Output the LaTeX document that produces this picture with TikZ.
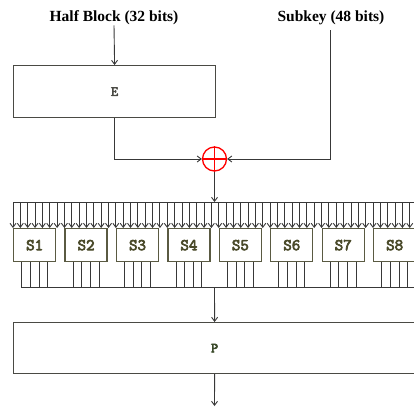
\documentclass[tikz,border=0pt]{standalone}
\usepackage{fontspec}
\setmainfont{Liberation Serif}
\setmonofont{Latin Modern Mono}[AutoFakeBold=4]
\usetikzlibrary{arrows.meta,calc}
\definecolor{boxline}{HTML}{4A4A44}
\definecolor{sline}{HTML}{5A5A42}
\definecolor{stext}{HTML}{4A4A2A}
\definecolor{ptext}{HTML}{3A4A2A}
\definecolor{wire}{HTML}{383838}
\tikzset{
  lab/.style={font=\fontsize{15.5}{18}\selectfont\bfseries, inner sep=0pt},
  bigbox/.style={draw=boxline, line width=1.2pt, fill=white, anchor=north west, inner sep=0pt},
  sbox/.style={draw=sline, line width=1.3pt, fill=white, anchor=north west, minimum width=42pt, minimum height=33pt, inner sep=0pt, text=stext, font=\ttfamily\fontsize{16.5}{18}\selectfont\bfseries},
  xorc/.style={circle, draw=red, line width=1.3pt, minimum size=24pt, inner sep=0pt},
  wireline/.style={draw=wire, line width=0.9pt},
  arr/.style={wireline, -{Straight Barb[length=4pt,width=6pt]}},
}
\begin{document}
\begin{tikzpicture}[x=1pt,y=-1pt]
\useasboundingbox (0,0) rectangle (414,407);
% labels
\node[lab] (hb) at (114,18) {Half Block (32 bits)};
\node[lab] (sk) at (331,18) {Subkey (48 bits)};
% E box
\node[bigbox, minimum width=202pt, minimum height=52pt, font=\ttfamily\fontsize{14}{16}\selectfont\bfseries, text=boxline] (E) at (13,65) {E};
% XOR
\node[xorc] (x) at (214.5,159) {};
\draw[red, line width=1.3pt] (x.north) -- (x.south) (x.west) -- (x.east);
\coordinate (skc) at (330,30);
\draw[arr] (hb.south) -- (E.north);
\draw[arr] (E.south) |- (x.west);
\draw[arr] (skc) |- (x.east);
% top bus
\coordinate (busL) at (13,202);
\coordinate (busR) at (414,202);
\coordinate (busT) at (214.5,202);
\draw[arr] (x.south) -- (busT);
\draw[wireline] (busL) -- (busR);
% S boxes
\foreach \i in {1,...,8} {
  \node[sbox] (S\i) at ({13+(\i-1)*51.43},228) {S\i};
}
\foreach \k in {0,...,54} {
  \draw[arr] ($(busL)+({\k*7.347},0)$) -- ++(0,26);
}
\foreach \i in {1,...,8} {
  \foreach \d in {-12.9,-4.3,4.3,12.9} {
    \draw[wireline] ([xshift=\d pt]S\i.south) -- ++(0,26);
  }
}
% bottom bus
\coordinate (bbL) at (21,287);
\coordinate (bbR) at (414,287);
\coordinate (bbT) at (214.5,287);
\draw[wireline] (bbL) -- (bbR);
% P box
\node[bigbox, minimum width=402pt, minimum height=51pt, font=\ttfamily\fontsize{14}{16}\selectfont\bfseries, text=ptext] (P) at (13,322) {P};
\draw[arr] (bbT) -- (P.north);
\coordinate (out) at (214.5,406);
\draw[arr] (P.south) -- (out);
\end{tikzpicture}
\end{document}
